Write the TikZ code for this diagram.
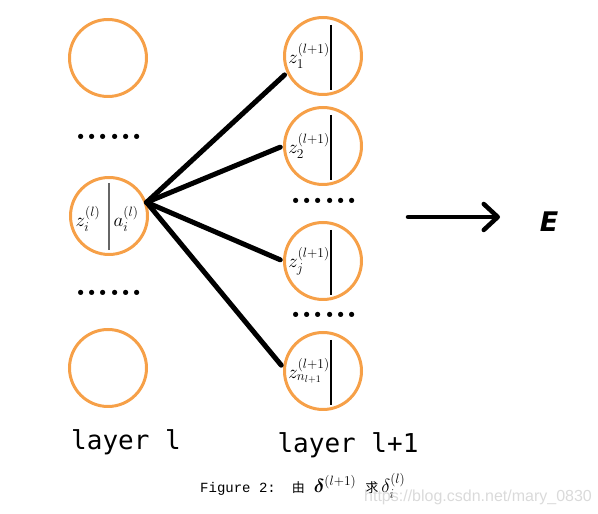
\documentclass[tikz,border=0pt]{standalone}
\usepackage{fix-cm}
\usepackage{amsmath}
\usepackage{fontspec}
\usetikzlibrary{positioning, arrows.meta}
\newfontfamily\layerfont{DejaVu Sans Mono}
\newfontfamily\capfont{Liberation Mono}
\newfontfamily\cjk{Noto Sans CJK SC}
\newfontfamily\efont{DejaVu Sans}
\newfontfamily\markfont{Liberation Sans}
\definecolor{cellorange}{RGB}{246,160,72}
\definecolor{markgray}{RGB}{218,218,218}
\DeclareMathSizes{19}{19}{13.5}{10}

\begin{document}
\begin{tikzpicture}[x=1pt, y=1pt,
  neuron/.style={circle, draw=cellorange, line width=3pt, minimum size=77pt, inner sep=0pt},
  dotrow/.style={font=\bfseries\fontsize{36}{36}\selectfont, inner sep=0pt},
  lbl/.style={font=\fontsize{19}{22}\selectfont, inner sep=0pt},
  link/.style={line width=5pt, line cap=round, shorten >=3pt},
  layername/.style={font=\layerfont\fontsize{26}{28}\selectfont, anchor=base}]
\useasboundingbox (0,0) rectangle (598,514);
% layer l
\node[neuron] (top) at (108,456) {};
\node[dotrow] (ldots1) at (109,377) {......};
\node[neuron] (zi) at (109,298) {};
\node[dotrow] (ldots2) at (109,221) {......};
\node[neuron] (bot) at (108,146) {};
\draw[gray!80!black, line width=1.5pt] ([yshift=33pt]zi.center) -- ([yshift=-34pt]zi.center);
\node[lbl] (zil) at ([xshift=-21pt,yshift=-3pt]zi.center) {$z_i^{(l)}$};
\node[lbl] (ail) at ([xshift=17pt,yshift=-3pt]zi.center) {$a_i^{(l)}$};
% layer l+1
\node[neuron] (z1) at (323,458) {};
\node[neuron] (z2) at (323,368) {};
\node[dotrow] (rdots1) at (324,313) {......};
\node[neuron] (zj) at (323,253) {};
\node[dotrow] (rdots2) at (324,199) {......};
\node[neuron] (zn) at (323,143) {};
\foreach \n in {z1,z2,zj,zn}
  \draw[line width=1.5pt] ([xshift=8pt,yshift=31pt]\n.center) -- ([xshift=8pt,yshift=-34pt]\n.center);
\node[lbl] (z1l) at ([xshift=-14pt]z1.center) {$z_1^{(l+1)}$};
\node[lbl] (z2l) at ([xshift=-14pt]z2.center) {$z_2^{(l+1)}$};
\node[lbl] (zjl) at ([xshift=-14pt]zj.center) {$z_j^{(l+1)}$};
\node[lbl] (znl) at ([xshift=-14pt]zn.center) {$z_{n_{l+1}}^{(l+1)}$};
\draw[link] (zi.20) -- (z1.205);
\draw[link] (zi.20) -- (z2.west);
\draw[link] (zi.20) -- (zj.west);
\draw[link] (zi.20) -- (zn.175);
% error
\coordinate (from) at (408,297);
\coordinate (to) at (500,297);
\draw[line width=4.5pt, line cap=round, -{Straight Barb[length=14pt, width=26pt, line cap=round, line join=round]}] (from) -- (to);
\node[font=\efont\bfseries\itshape\fontsize{27}{30}\selectfont] (E) at (549,292) {E};
% labels
\node[layername] (lay1) at (126,64) {layer l};
\node[layername] (lay2) at (348,61) {layer l+1};
\node[anchor=base west, inner sep=0pt, font=\fontsize{19}{22}\selectfont] (cap) at (200,21)
  {{\capfont\fontsize{14}{16}\selectfont Figure 2:}\hspace{16pt}{\cjk\fontsize{13}{16}\selectfont 由}\hspace{9pt}$\boldsymbol{\delta}^{(l+1)}$\hspace{9pt}{\cjk\fontsize{13}{16}\selectfont 求}\hspace{3pt}$\delta_i^{(l)}$};
\node[anchor=base west, inner sep=0pt, text=markgray, font=\markfont\fontsize{16}{18}\selectfont] (mark) at (364,12) {https://blog.csdn.net/mary\_0830};
\end{tikzpicture}
\end{document}
